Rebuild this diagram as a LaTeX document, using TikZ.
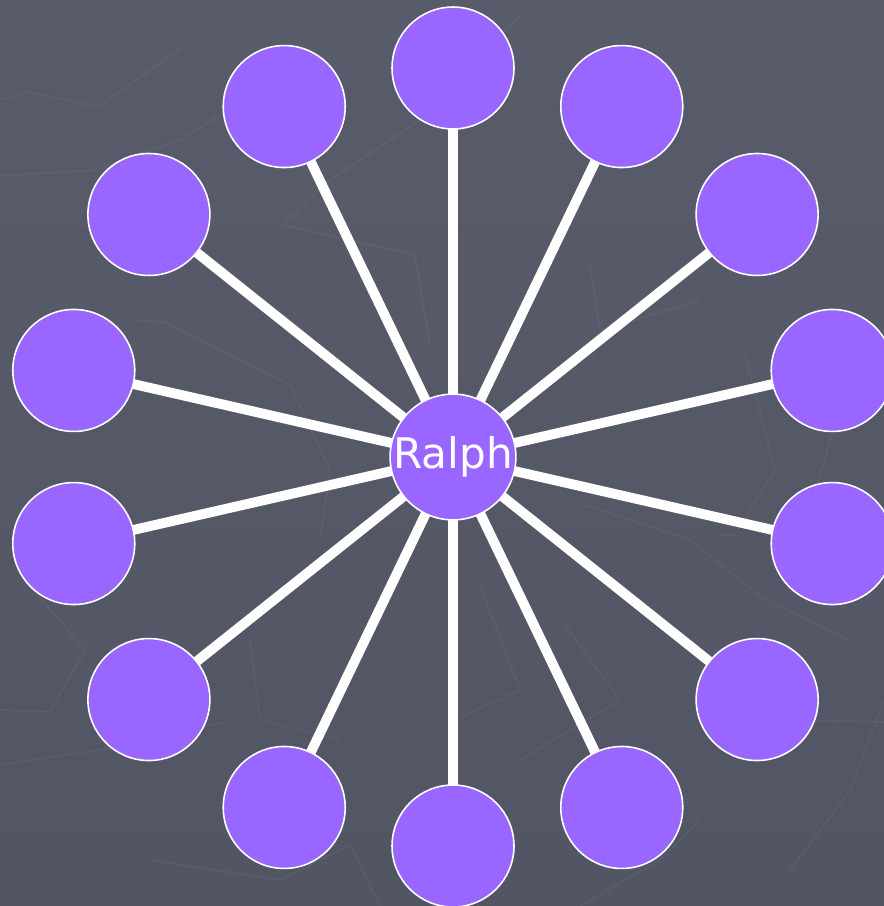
\documentclass[tikz,border=0pt]{standalone}
\usepackage{fontspec}
\setmainfont{DejaVu Sans}
\usepackage{xcolor}
\usetikzlibrary{backgrounds}
\definecolor{slate}{HTML}{585B6A}
\definecolor{slatelow}{HTML}{525563}
\definecolor{friendfill}{HTML}{9966FF}
\tikzset{
  person/.style={circle,fill=friendfill,draw=white,line width=0.9pt,minimum size=2.44cm,inner sep=0pt},
  tie/.style={white,line width=5.6pt},
  texture/.style={white,opacity=0.04,line width=1pt}
}

\begin{document}
\begin{tikzpicture}[x=0.02cm,y=-0.02cm]
\useasboundingbox (0,0) rectangle (884,906);
\clip (0,0) rectangle (884,906);
\node[person,text=white,font=\fontsize{24}{24}\selectfont] (ralph) at (453,457) {Ralph};
\foreach \i in {0,...,13}
  \node[person] (friend\i) at ({453+389*cos(90+\i*360/14)},{457-389*sin(90+\i*360/14)}) {};
\begin{scope}[on background layer]
\shade[top color=slate,bottom color=slatelow] (0,0) rectangle (884,906);
% faint texture lines
\draw[texture] (0,100) -- (28,92) -- (98,107) -- (190,42);
\draw[texture] (0,176) -- (95,170) -- (180,140) -- (225,112);
\draw[texture] (283,225) -- (330,180) -- (420,120) -- (520,15);
\draw[texture] (283,225) -- (415,255) -- (430,345);
\draw[texture] (590,265) -- (600,330) -- (700,300);
\draw[texture] (745,355) -- (775,470) -- (735,535) -- (720,535);
\draw[texture] (833,432) -- (812,500);
\draw[texture] (0,710) -- (50,712) -- (85,650) -- (25,580);
\draw[texture] (0,765) -- (130,745) -- (225,722);
\draw[texture] (130,320) -- (165,322) -- (290,385) -- (330,470) -- (320,540);
\draw[texture] (565,625) -- (620,700) -- (520,760);
\draw[texture] (480,585) -- (520,690) -- (455,720);
\draw[texture] (585,505) -- (690,540) -- (765,600) -- (850,640);
\draw[texture] (790,720) -- (884,722);
\draw[texture] (150,860) -- (280,880) -- (350,845) -- (380,906);
\draw[texture] (580,906) -- (660,860) -- (700,820);
\draw[texture] (884,700) -- (850,790) -- (790,870);
\draw[texture] (250,640) -- (260,720) -- (340,740);
\foreach \i in {0,...,13}
  \draw[tie] (ralph.center) -- (friend\i.center);
\end{scope}
\end{tikzpicture}
\end{document}
